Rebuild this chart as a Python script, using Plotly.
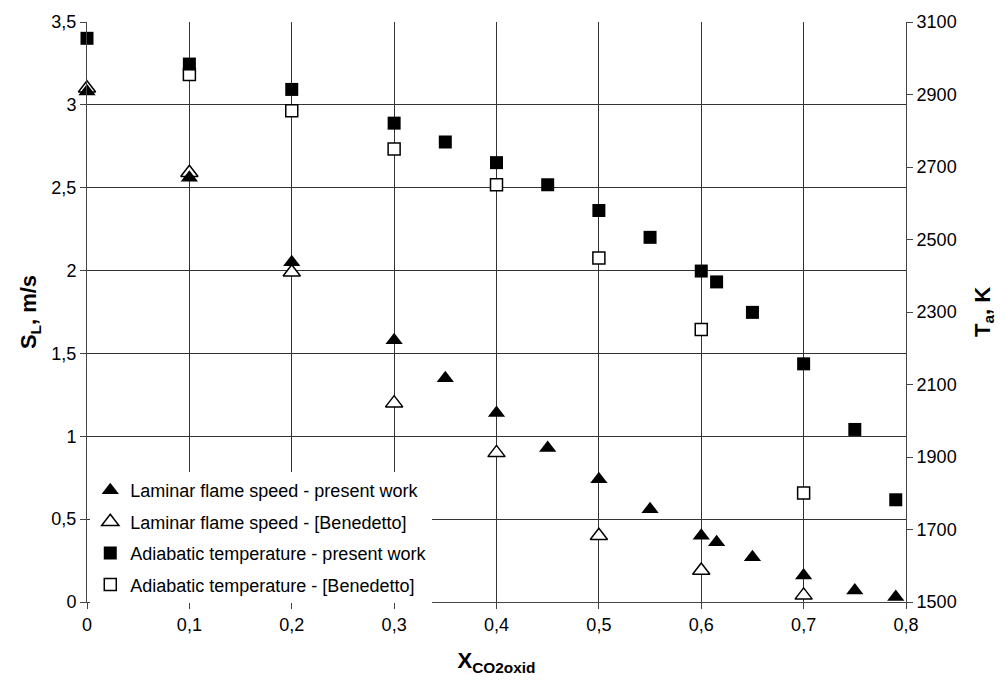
import plotly.graph_objects as go

# X_CO2oxid values
x_present = [0, 0.1, 0.2, 0.3, 0.35, 0.4, 0.45, 0.5, 0.55, 0.6, 0.615, 0.65, 0.7, 0.75, 0.79]
sl_present = [3.08, 2.56, 2.05, 1.58, 1.35, 1.14, 0.93, 0.74, 0.56, 0.40, 0.36, 0.27, 0.16, 0.07, 0.03]
ta_present = [3055, 2984, 2914, 2821, 2769, 2712, 2651, 2580, 2506, 2413, 2383, 2299, 2157, 1976, 1782]

x_bened_sl = [0, 0.1, 0.2, 0.3, 0.4, 0.5, 0.6, 0.7]
sl_bened = [3.1, 2.59, 1.99, 1.2, 0.9, 0.4, 0.19, 0.04]

x_bened_ta = [0.1, 0.2, 0.3, 0.4, 0.5, 0.6, 0.7]
ta_bened = [2955, 2855, 2750, 2651, 2449, 2252, 1801]

names = [
    "Laminar flame speed - present work",
    "Laminar flame speed - [Benedetto]",
    "Adiabatic temperature - present work",
    "Adiabatic temperature - [Benedetto]",
]

FONT = "Liberation Sans, Arial, sans-serif"
GRID = "#333333"

fig = go.Figure()

# open (Benedetto) drawn first, filled drawn on top
fig.add_trace(go.Scatter(
    x=x_bened_sl, y=sl_bened, mode="markers", name=names[1], legendrank=2,
    legendgroup="b", yaxis="y", cliponaxis=False,
    marker=dict(symbol="triangle-up", size=15, color="white", line=dict(color="black", width=1.5)),
))
fig.add_trace(go.Scatter(
    x=x_present, y=sl_present, mode="markers", name=names[0], legendrank=1,
    legendgroup="a", yaxis="y", cliponaxis=False,
    marker=dict(symbol="triangle-up", size=15, color="black", line=dict(color="black", width=0)),
))
fig.add_trace(go.Scatter(
    x=x_bened_ta, y=ta_bened, mode="markers", name=names[3], legendrank=4,
    legendgroup="d", yaxis="y2", cliponaxis=False,
    marker=dict(symbol="square", size=12, color="white", line=dict(color="black", width=1.5)),
))
fig.add_trace(go.Scatter(
    x=x_present, y=ta_present, mode="markers", name=names[2], legendrank=3,
    legendgroup="c", yaxis="y2", cliponaxis=False,
    marker=dict(symbol="square", size=13, color="black", line=dict(color="black", width=0)),
))

fig.update_layout(
    width=1004, height=685,
    margin=dict(l=87, r=98, t=16, b=83, pad=0),
    paper_bgcolor="white", plot_bgcolor="white",
    separators=", ",
    font=dict(family=FONT, size=18, color="black"),
    showlegend=True,
    legend=dict(
        x=0.004, y=0.224, xanchor="left", yanchor="top",
        bgcolor="white", borderwidth=0,
        font=dict(family=FONT, size=18, color="black"),
        traceorder="grouped", tracegroupgap=5,
        itemwidth=30,
    ),
    xaxis=dict(
        range=[0, 0.8], dtick=0.1, tick0=0,
        showgrid=True, gridcolor=GRID, gridwidth=1,
        zeroline=False, showline=True, linecolor="#444444", linewidth=1,
        ticks="outside", ticklen=6, tickcolor="#444444",
        tickfont=dict(size=18),
        title=dict(text="<b>X<sub>CO2oxid</sub></b>", font=dict(size=22), standoff=19),
    ),
    yaxis=dict(
        range=[0, 3.5], dtick=0.5, tick0=0,
        showgrid=True, gridcolor=GRID, gridwidth=1,
        zeroline=False, showline=True, linecolor="#444444", linewidth=1,
        ticks="outside", ticklen=6, tickcolor="#444444",
        tickfont=dict(size=18),
        title=dict(text="<b>S<sub>L</sub>, m/s</b>", font=dict(size=22), standoff=8),
    ),
    yaxis2=dict(
        range=[1500, 3100], dtick=200, tick0=1500,
        overlaying="y", side="right",
        showgrid=False, zeroline=False,
        showline=True, linecolor="#444444", linewidth=1,
        ticks="outside", ticklen=6, tickcolor="#444444",
        tickfont=dict(size=18),
        title=dict(text="<b>T<sub>a</sub>, K</b>", font=dict(size=22), standoff=18),
    ),
)

fig.write_html("out.html")
